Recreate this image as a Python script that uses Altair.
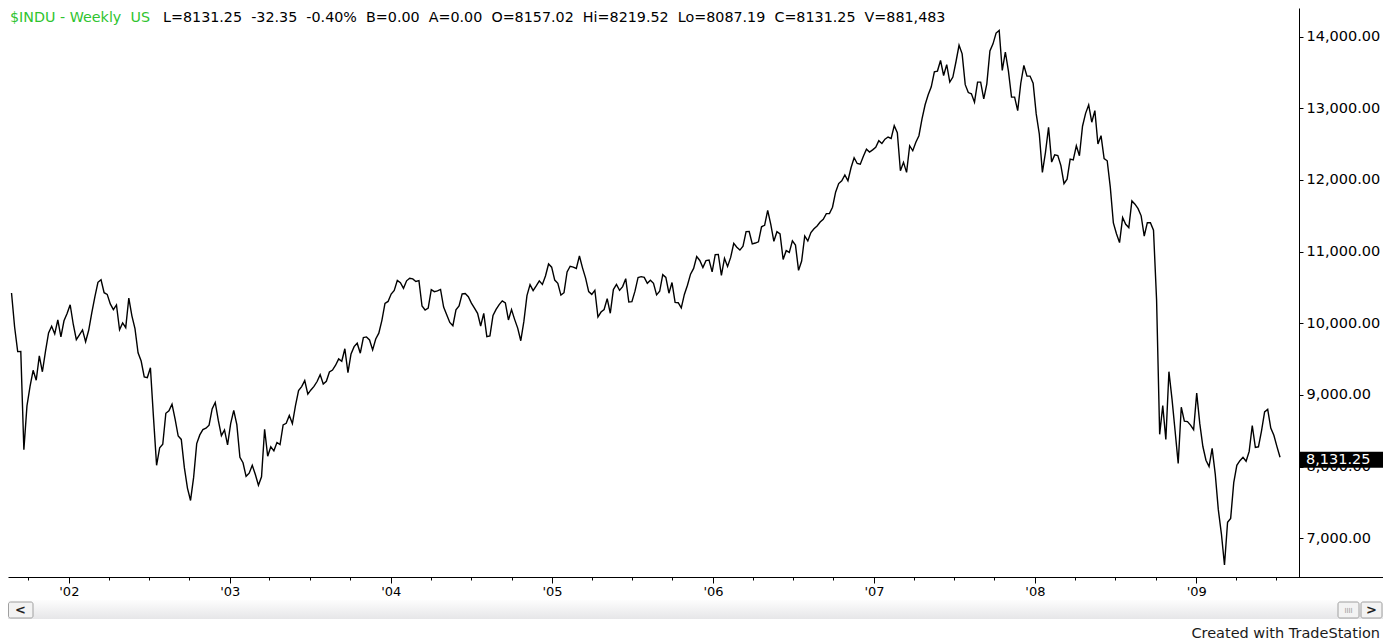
import altair as alt
import pandas as pd

# Weekly closes of $INDU, Friday bars from 2001-08-24 to 2009-07-10
close_2001 = [10423, 9949, 9605, 9606, 8235, 8848, 9120, 9344, 9205, 9545, 9324, 9608,
              9867, 9960, 9852, 10049, 9812, 10035, 10136]
close_2002 = [10259, 9987, 9772, 9840, 9908, 9744, 9903, 10146, 10368, 10572,
              10608, 10427, 10404, 10271, 10191, 10257, 9910, 10006, 9939, 10353,
              10105, 9925, 9589, 9474, 9253, 9243, 9380, 8684, 8019, 8264,
              8313, 8745, 8778, 8872, 8663, 8427, 8380, 7986, 7701, 7528,
              7850, 8322, 8443, 8517, 8537, 8579, 8805, 8896, 8645, 8433,
              8512, 8303]
close_2003 = [8601, 8785, 8586, 8131, 8054, 7865, 7909, 8018, 7891, 7740,
              7859, 8522, 8145, 8277, 8221, 8337, 8307, 8582, 8604, 8713,
              8601, 8850, 9062, 9117, 9201, 9011, 9070, 9119, 9188, 9284,
              9153, 9191, 9321, 9348, 9415, 9503, 9471, 9645, 9313, 9573,
              9675, 9722, 9583, 9801, 9810, 9768, 9629, 9782, 9863, 10042,
              10278, 10305]
close_2004 = [10409, 10458, 10600, 10568, 10488, 10593, 10628, 10620, 10584, 10596,
              10241, 10186, 10213, 10470, 10442, 10452, 10472, 10226, 10118, 10012,
              9967, 10188, 10243, 10410, 10416, 10371, 10282, 10213, 10140, 9962,
              10139, 9815, 9825, 10110, 10195, 10260, 10313, 10284, 10047, 10192,
              10055, 9933, 9757, 10027, 10387, 10540, 10456, 10522, 10592, 10543,
              10661, 10828]
close_2005 = [10783, 10603, 10558, 10393, 10427, 10716, 10796, 10785, 10766, 10940,
              10774, 10630, 10442, 10404, 10461, 10088, 10157, 10192, 10345, 10140,
              10471, 10542, 10460, 10512, 10623, 10297, 10303, 10449, 10640, 10651,
              10641, 10558, 10600, 10559, 10397, 10447, 10679, 10641, 10420, 10569,
              10292, 10287, 10215, 10403, 10531, 10686, 10766, 10931, 10877, 10779,
              10875, 10883]
close_2006 = [10718, 10959, 10960, 10668, 10907, 10793, 10920, 11115, 11062, 11022,
              11076, 11279, 11280, 11109, 11120, 11137, 11347, 11367, 11577, 11380,
              11144, 11278, 11247, 10891, 11014, 10989, 11150, 11091, 10739, 10869,
              11219, 11150, 11266, 11320, 11358, 11414, 11452, 11530, 11530, 11620,
              11830, 11950, 11990, 12070, 11990, 12170, 12310, 12230, 12220, 12330,
              12430, 12390]
close_2007 = [12420, 12456, 12548, 12510, 12570, 12600, 12580, 12758, 12660, 12128,
              12246, 12106, 12478, 12408, 12526, 12618, 12852, 13050, 13190, 13300,
              13510, 13520, 13668, 13458, 13610, 13366, 13436, 13650, 13880, 13760,
              13330, 13220, 13202, 13086, 13366, 13366, 13132, 13342, 13800, 13900,
              14050, 14088, 13528, 13786, 13520, 13156, 13156, 12968, 13350, 13598,
              13450, 13450, 13350]
close_2008 = [12922, 12642, 12106, 12386, 12736, 12250, 12350, 12340, 12200, 11950,
              12012, 12292, 12280, 12478, 12338, 12750, 12930, 13048, 12806, 12968,
              12502, 12618, 12300, 12268, 11900, 11400, 11250, 11126, 11476, 11382,
              11336, 11708, 11662, 11600, 11500, 11218, 11404, 11404, 11300, 10325,
              8451, 8852, 8378, 9325, 8943, 8497, 8046, 8829, 8635, 8629,
              8579, 8515]
close_2009 = [9026, 8600, 8281, 8090, 8001, 8256, 7900, 7400, 7063, 6627,
              7224, 7278, 7776, 8018, 8083, 8131, 8076, 8212, 8574, 8268,
              8277, 8500, 8763, 8799, 8539, 8438, 8280, 8131.25]

y_ticks = [7000, 8000, 9000, 10000, 11000, 12000, 13000, 14000]

NB = "\u00a0"
header_symbol = "$INDU - Weekly" + NB + NB + "US"
header_fields = ["L=8131.25", "-32.35", "-0.40%", "B=0.00", "A=0.00", "O=8157.02",
                 "Hi=8219.52", "Lo=8087.19", "C=8131.25", "V=881,483"]
header_quote = (NB + NB).join(header_fields)
footer_text = "Created with TradeStation"

closes = (close_2001 + close_2002 + close_2003 + close_2004 + close_2005 +
          close_2006 + close_2007 + close_2008 + close_2009)
dates = pd.date_range("2001-08-24", periods=len(closes), freq="W-FRI")
df = pd.DataFrame({"date": dates.strftime("%Y-%m-%d"), "close": closes})
last = df.tail(1)

FONT = "DejaVu Sans"
W, H = 1291, 569

x_scale = alt.Scale(domain=[alt.DateTime(year=2001, month=8, date=16),
                            alt.DateTime(year=2009, month=8, date=22)], nice=False)
y_scale = alt.Scale(domain=[6460, 14400], nice=False, zero=False)

x_axis = alt.Axis(
    orient="bottom", title=None, grid=False,
    tickCount={"interval": "month", "step": 3},
    labelExpr="month(datum.value) == 0 ? \"'\" + timeFormat(datum.value, '%y') : ''",
    tickSize={"condition": {"test": "month(datum.value) == 0", "value": 6}, "value": 3},
    domainColor="black", tickColor="black", labelColor="black",
    labelFont=FONT, labelFontSize=13, labelPadding=2,
    labelOverlap=False, labelFlush=False,
)
y_axis = alt.Axis(
    orient="right", title=None, grid=False, values=y_ticks, format=",.2f",
    tickSize=4, labelPadding=3, domainColor="black", tickColor="black",
    labelColor="black", labelFont=FONT, labelFontSize=14.5, labelBaseline="middle",
)

line = alt.Chart(df).mark_line(color="black", strokeWidth=1.4).encode(
    x=alt.X("date:T", scale=x_scale, axis=x_axis),
    y=alt.Y("close:Q", scale=y_scale, axis=y_axis),
)

price_box = alt.Chart(last).mark_rule(
    color="black", strokeWidth=16, strokeCap="butt", yOffset=2.5
).encode(
    x=alt.value(1292), x2=alt.value(1375),
    y=alt.Y("close:Q", scale=y_scale, axis=y_axis),
)
price_text = alt.Chart(last).mark_text(
    color="white", align="left", baseline="middle", font=FONT, fontSize=14.5, dy=2.5
).encode(
    x=alt.value(1298),
    y=alt.Y("close:Q", scale=y_scale, axis=y_axis),
    text=alt.Text("close:Q", format=",.2f"),
)

hdr1 = alt.Chart(pd.DataFrame({"t": [header_symbol]})).mark_text(
    color="#2fc42f", align="left", baseline="alphabetic", font=FONT, fontSize=14.3
).encode(x=alt.value(2), y=alt.value(13.5), text="t:N")
hdr2 = alt.Chart(pd.DataFrame({"t": [header_quote]})).mark_text(
    color="black", align="left", baseline="alphabetic", font=FONT, fontSize=14.3
).encode(x=alt.value(155), y=alt.value(13.5), text="t:N")

axis_ext = alt.Chart(last).mark_rule(color="black", strokeWidth=1).encode(
    x=alt.value(1291), x2=alt.value(1375), y=alt.value(569.5)
)

grad = alt.LinearGradient(gradient="linear", x1=0, x2=0, y1=0, y2=1,
                          stops=[alt.GradientStop(color="#fdfdfd", offset=0),
                                 alt.GradientStop(color="#e6e6e8", offset=1)])
scroll_bg = alt.Chart(last).mark_rect(color=grad).encode(
    x=alt.value(0), x2=alt.value(1375), y=alt.value(592), y2=alt.value(611)
)
btn_left = alt.Chart(last).mark_rect(fill="#f3f3f3", stroke="#a0a0a0", strokeWidth=1,
                                     cornerRadius=2).encode(
    x=alt.value(0.5), x2=alt.value(25), y=alt.value(594), y2=alt.value(610)
)
btn_thumb = alt.Chart(last).mark_rect(fill="#f3f3f3", stroke="#a0a0a0", strokeWidth=1,
                                      cornerRadius=2).encode(
    x=alt.value(1330), x2=alt.value(1351), y=alt.value(594), y2=alt.value(610)
)
btn_right = alt.Chart(last).mark_rect(fill="#f3f3f3", stroke="#a0a0a0", strokeWidth=1,
                                      cornerRadius=2).encode(
    x=alt.value(1353), x2=alt.value(1374), y=alt.value(594), y2=alt.value(610)
)
arrow_l = alt.Chart(pd.DataFrame({"t": ["<"]})).mark_text(
    color="#222222", font=FONT, fontSize=13, fontWeight="bold", baseline="middle"
).encode(x=alt.value(12.5), y=alt.value(602), text="t:N")
arrow_r = alt.Chart(pd.DataFrame({"t": [">"]})).mark_text(
    color="#222222", font=FONT, fontSize=13, fontWeight="bold", baseline="middle"
).encode(x=alt.value(1363.5), y=alt.value(602), text="t:N")
thumb_grip = alt.Chart(pd.DataFrame({"t": ["IIII"]})).mark_text(
    color="#9a9a9a", font=FONT, fontSize=7, baseline="middle"
).encode(x=alt.value(1340.5), y=alt.value(602.5), text="t:N")

footer = alt.Chart(pd.DataFrame({"t": [footer_text]})).mark_text(
    color="#1a1a1a", align="right", baseline="alphabetic", font=FONT, fontSize=14.5
).encode(x=alt.value(1372), y=alt.value(630), text="t:N")

chart = alt.layer(
    line, axis_ext, scroll_bg, btn_left, btn_thumb, btn_right, arrow_l, arrow_r,
    thumb_grip, price_box, price_text, hdr1, hdr2, footer
).properties(
    width=W, height=H,
    autosize=alt.AutoSizeParams(type="none"),
    padding={"left": 0, "top": 0, "right": 84, "bottom": 63},
    background="white",
).configure_view(stroke=None)

chart.save("out.html", embed_options={"renderer": "svg", "actions": False})
